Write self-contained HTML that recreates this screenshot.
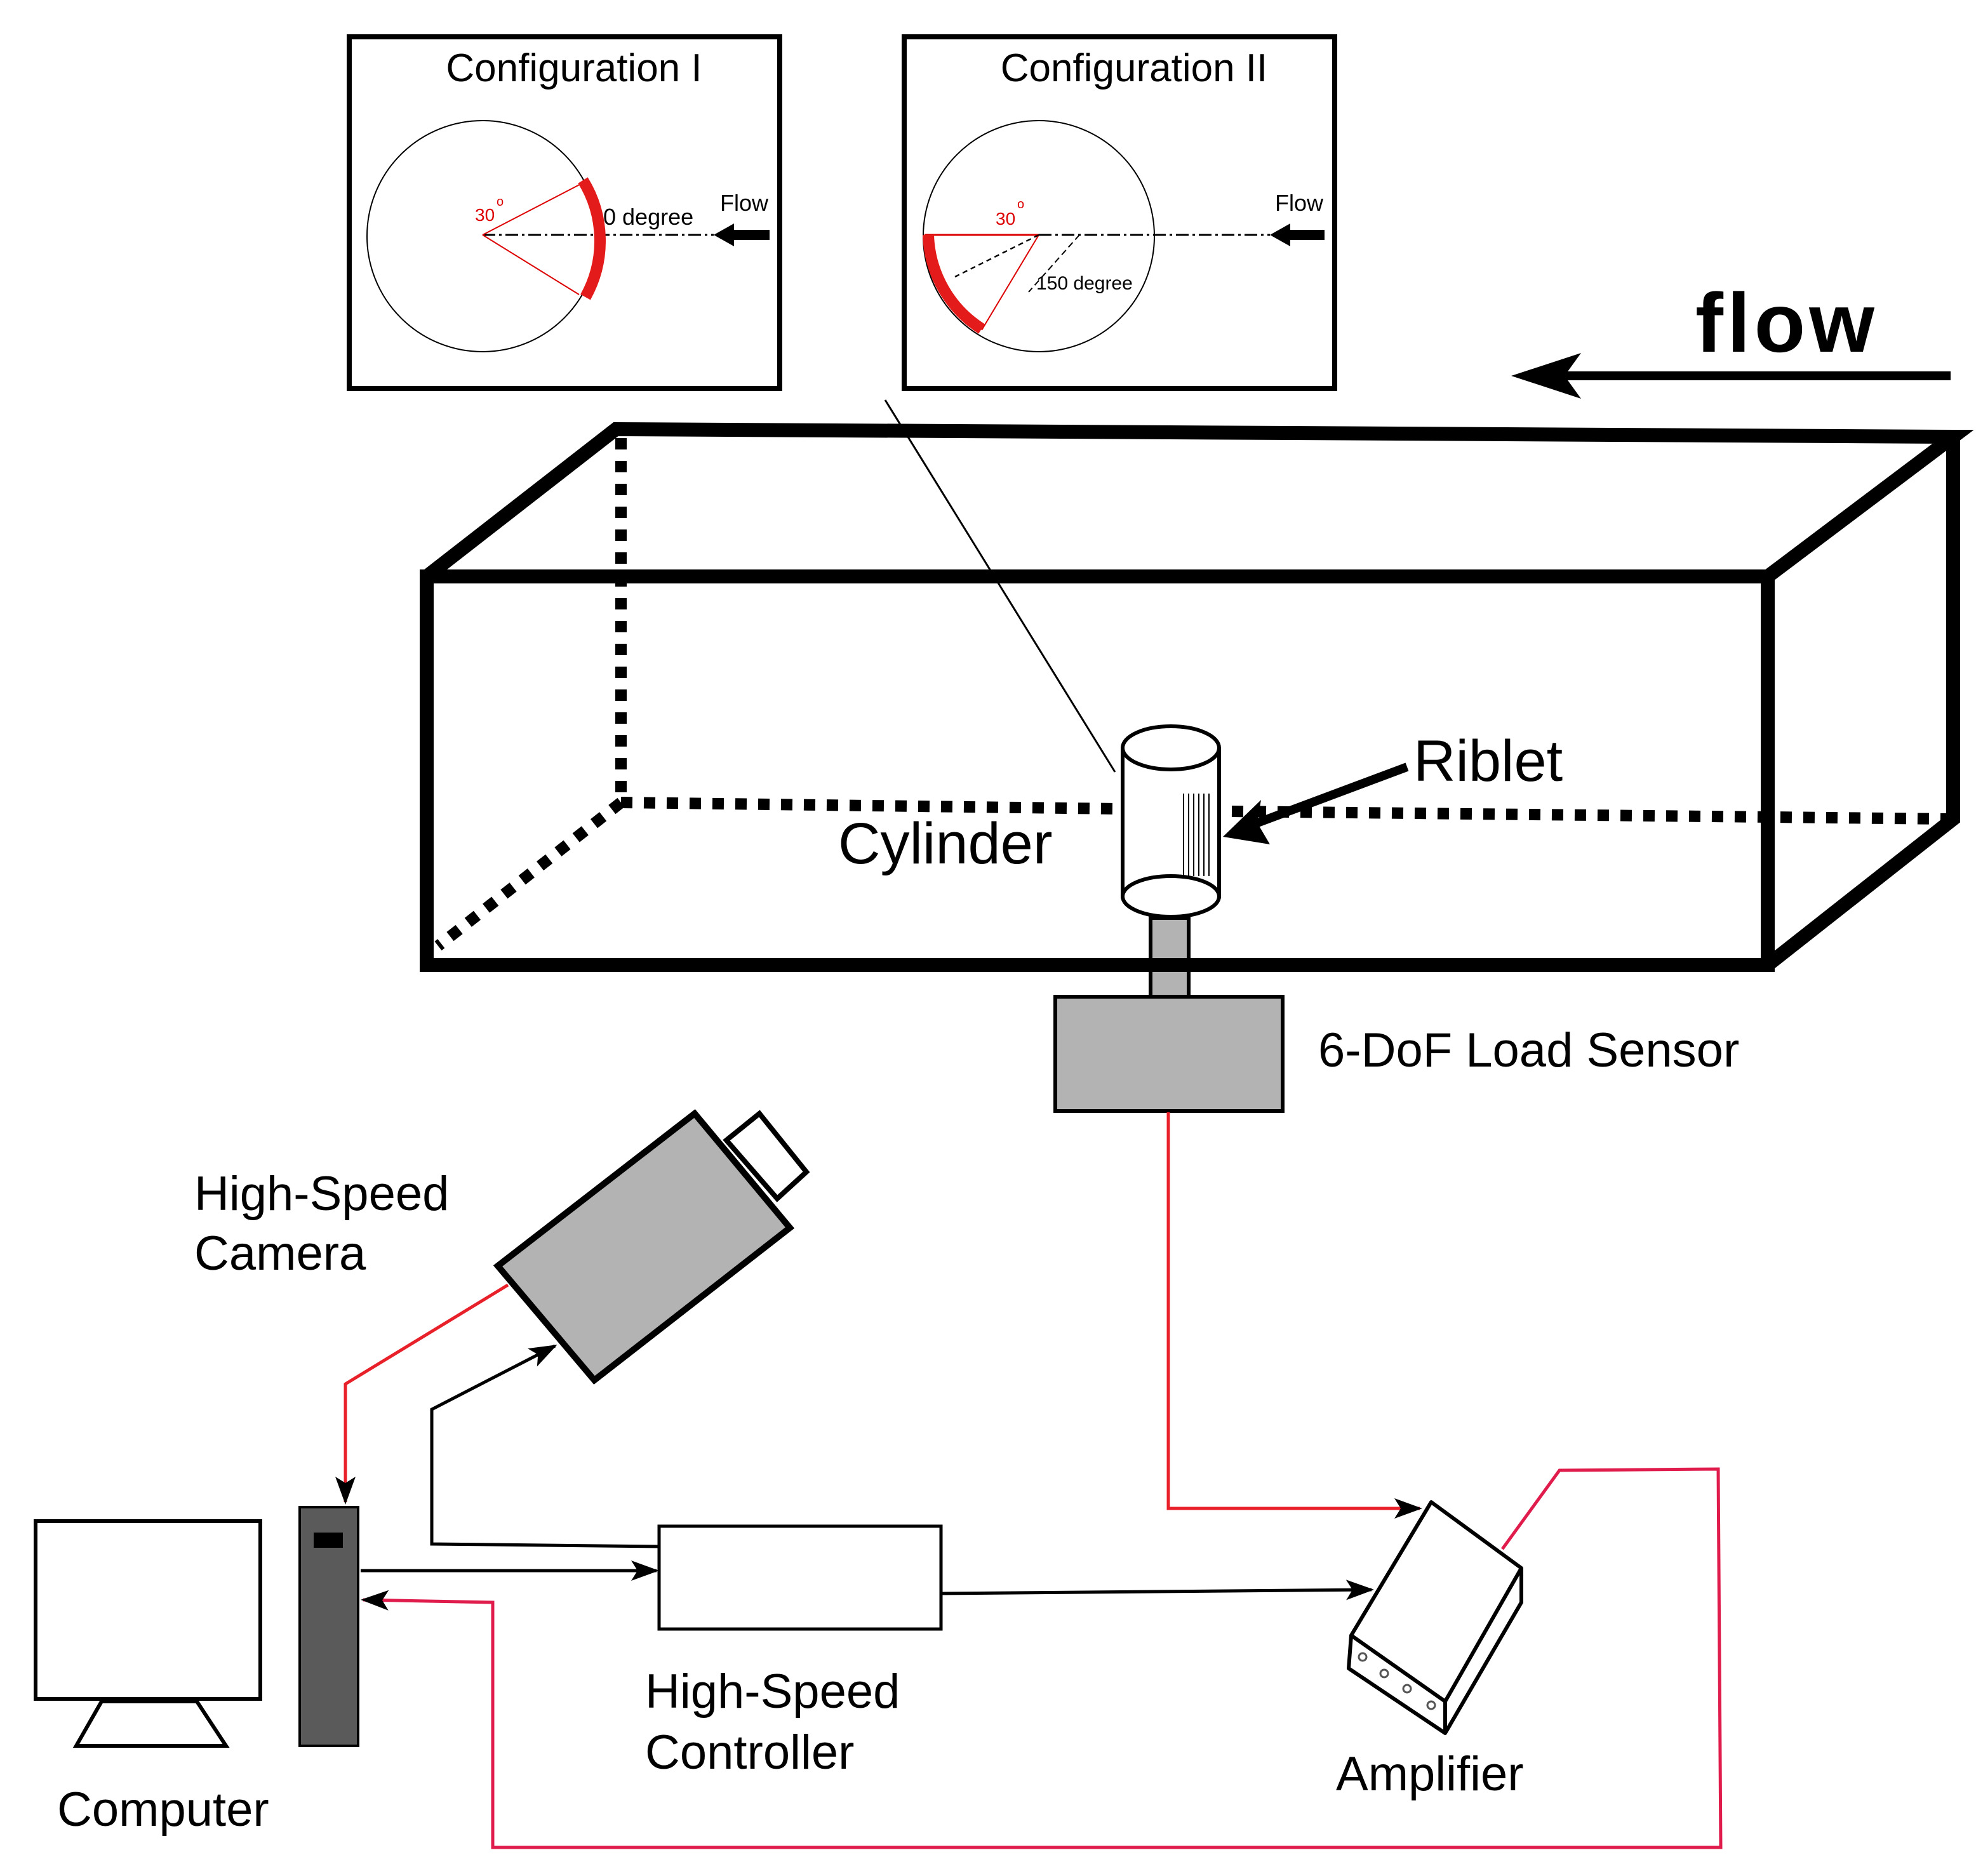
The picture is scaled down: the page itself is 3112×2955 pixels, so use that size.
<!DOCTYPE html>
<html><head><meta charset="utf-8"><style>html,body{margin:0;padding:0;background:#fff}svg{display:block}</style></head>
<body>
<svg xmlns="http://www.w3.org/2000/svg" width="3112" height="2955" viewBox="0 0 1556 1477.5" font-family="Liberation Sans, sans-serif">
<defs>
<marker id="ab2" markerWidth="22" markerHeight="16" refX="20" refY="8" orient="auto" markerUnits="userSpaceOnUse" viewBox="0 0 22 16"><path d="M0,0 L22,8 L0,16 L5,8 Z" fill="#000"/></marker>
</defs>
<rect width="1556" height="1477.5" fill="#fff"/>
<!-- Config I -->
<rect x="275" y="29" width="339" height="277" fill="none" stroke="#000" stroke-width="4"/>
<text x="452" y="64" font-size="31" text-anchor="middle">Configuration I</text>
<circle cx="380" cy="186" r="91" fill="none" stroke="#000" stroke-width="1"/>
<line x1="380" y1="185" x2="562" y2="185" stroke="#000" stroke-width="1.5" stroke-dasharray="10,3,2,3"/>
<line x1="380" y1="185" x2="461" y2="143" stroke="#d00" stroke-width="1"/>
<line x1="380" y1="185" x2="456" y2="232" stroke="#d00" stroke-width="1"/>
<path d="M459,142 A91,91 0 0 1 461,234" fill="none" stroke="#e41b1b" stroke-width="9"/>
<path d="M562,185 L578,176 L578,181 L606,181 L606,189 L578,189 L578,194 Z" fill="#000"/>
<text x="567" y="166" font-size="18">Flow</text>
<text x="475" y="177" font-size="18">0 degree</text>
<text x="374" y="174" font-size="14" fill="#d00">30</text><text x="391" y="162" font-size="10" fill="#d00">o</text>
<!-- Config II -->
<rect x="712" y="29" width="339" height="277" fill="none" stroke="#000" stroke-width="4"/>
<text x="893" y="64" font-size="31" text-anchor="middle">Configuration II</text>
<circle cx="818" cy="186" r="91" fill="none" stroke="#000" stroke-width="1"/>
<line x1="818" y1="185" x2="1000" y2="185" stroke="#000" stroke-width="1.5" stroke-dasharray="10,3,2,3"/>
<line x1="818" y1="185" x2="728" y2="185" stroke="#d00" stroke-width="1.5"/>
<line x1="818" y1="185" x2="773" y2="260" stroke="#d00" stroke-width="1"/>
<line x1="818" y1="185" x2="752" y2="218" stroke="#000" stroke-width="1.2" stroke-dasharray="4,3"/>
<line x1="850" y1="185" x2="810" y2="230" stroke="#000" stroke-width="1" stroke-dasharray="5,3"/>
<path d="M731,185 A91,91 0 0 0 773,259" fill="none" stroke="#e41b1b" stroke-width="9"/>
<path d="M1000,185 L1016,176 L1016,181 L1043,181 L1043,189 L1016,189 L1016,194 Z" fill="#000"/>
<text x="1004" y="166" font-size="18">Flow</text>
<text x="816" y="228" font-size="15">150 degree</text>
<text x="784" y="177" font-size="14" fill="#d00">30</text><text x="801" y="164" font-size="10" fill="#d00">o</text>
<!-- big flow arrow -->
<line x1="1536" y1="296" x2="1215" y2="296" stroke="#000" stroke-width="7"/>
<path d="M1190,296 L1245,278 L1232,296 L1245,314 Z" fill="#000"/>
<text x="1335" y="277" font-size="66" font-weight="bold" letter-spacing="3">flow</text>
<!-- box -->
<g stroke="#000" stroke-width="11" fill="none" stroke-linejoin="miter">
<rect x="336" y="454" width="1056" height="306"/>
<path d="M336,454 L485,338 L1538,344 L1392,454"/>
<path d="M1538,344 L1538,645 L1392,760"/>
</g>
<g stroke="#000" stroke-width="9" fill="none" stroke-dasharray="9,9">
<line x1="489" y1="345" x2="489" y2="632"/>
<line x1="489" y1="632" x2="880" y2="637"/>
<line x1="970" y1="639" x2="1535" y2="645"/>
<line x1="489" y1="632" x2="345" y2="745"/>
</g>
<line x1="697" y1="315" x2="878" y2="608" stroke="#000" stroke-width="1.5"/>
<!-- cylinder -->
<rect x="884" y="590" width="76" height="116" fill="#fff" stroke="#000" stroke-width="3"/>
<g stroke="#000" stroke-width="1">
<line x1="932" y1="625" x2="932" y2="690"/><line x1="936" y1="625" x2="936" y2="690"/><line x1="940" y1="625" x2="940" y2="690"/><line x1="944" y1="625" x2="944" y2="690"/><line x1="948" y1="625" x2="948" y2="690"/><line x1="952" y1="625" x2="952" y2="690"/>
</g>
<ellipse cx="922" cy="589" rx="38" ry="17" fill="#fff" stroke="#000" stroke-width="3"/>
<ellipse cx="922" cy="706" rx="38" ry="16" fill="#fff" stroke="#000" stroke-width="3"/>
<rect x="906" y="723" width="30" height="63" fill="#b3b3b3" stroke="#000" stroke-width="3"/>
<line x1="904" y1="760" x2="938" y2="760" stroke="#000" stroke-width="11"/>
<rect x="831" y="785" width="179" height="90" fill="#b3b3b3" stroke="#000" stroke-width="3"/>
<line x1="1108" y1="604" x2="985" y2="650" stroke="#000" stroke-width="7"/>
<path d="M963,659 L993,630 L990,648 L1000,665 Z" fill="#000"/>
<text x="1113" y="615" font-size="46">Riblet</text>
<text x="660" y="680" font-size="46">Cylinder</text>
<text x="1038" y="840" font-size="38">6-DoF Load Sensor</text>
<!-- camera -->
<polygon points="572,898 598,877 635,923 612,944" fill="#fff" stroke="#000" stroke-width="4"/>
<polygon points="392,997 547,877 622,967 468,1087" fill="#b3b3b3" stroke="#000" stroke-width="5"/>
<text x="153" y="953" font-size="38">High-Speed</text>
<text x="153" y="1000" font-size="38">Camera</text>
<!-- computer -->
<rect x="28" y="1198" width="177" height="140" fill="#fff" stroke="#000" stroke-width="3"/>
<polygon points="80,1340 155,1340 178,1375 60,1375" fill="#fff" stroke="#000" stroke-width="3"/>
<rect x="236" y="1187" width="46" height="188" fill="#5a5a5a" stroke="#000" stroke-width="2"/>
<rect x="247" y="1207" width="23" height="12" fill="#000"/>
<text x="45" y="1438" font-size="38">Computer</text>
<!-- controller -->
<rect x="519" y="1202" width="222" height="81" fill="#fff" stroke="#000" stroke-width="2.5"/>
<text x="508" y="1345" font-size="38">High-Speed</text>
<text x="508" y="1393" font-size="38">Controller</text>
<!-- amplifier -->
<g stroke="#000" stroke-width="3" fill="#fff" stroke-linejoin="round">
<polygon points="1127,1183 1198,1235 1198,1262 1138,1365 1062,1314 1064,1288"/>
<polyline points="1064,1288 1138,1340 1198,1235" fill="none"/>
<line x1="1138" y1="1340" x2="1138" y2="1365"/>
</g>
<g fill="none" stroke="#555" stroke-width="1.5">
<circle cx="1073" cy="1305" r="3"/><circle cx="1090" cy="1318" r="3"/><circle cx="1108" cy="1330" r="3"/><circle cx="1127" cy="1343" r="3"/>
</g>
<text x="1052" y="1410" font-size="38">Amplifier</text>
<!-- connectors -->
<g fill="none" stroke-width="2.5">
<polyline points="400,1012 272,1090 272,1183" stroke="#e8202a" marker-end="url(#ab2)"/>
<polyline points="519,1218 340,1216 340,1110 437,1060" stroke="#000" marker-end="url(#ab2)"/>
<line x1="284" y1="1237" x2="517" y2="1237" stroke="#000" marker-end="url(#ab2)"/>
<line x1="741" y1="1255" x2="1080" y2="1252" stroke="#000" marker-end="url(#ab2)"/>
<polyline points="920,876 920,1188 1118,1188" stroke="#e8202a" marker-end="url(#ab2)"/>
<polyline points="1183,1220 1228,1158 1353,1157 1355,1455 388,1455 388,1262 286,1260" stroke="#e01c4c" marker-end="url(#ab2)"/>
</g>
</svg>
</body></html>
